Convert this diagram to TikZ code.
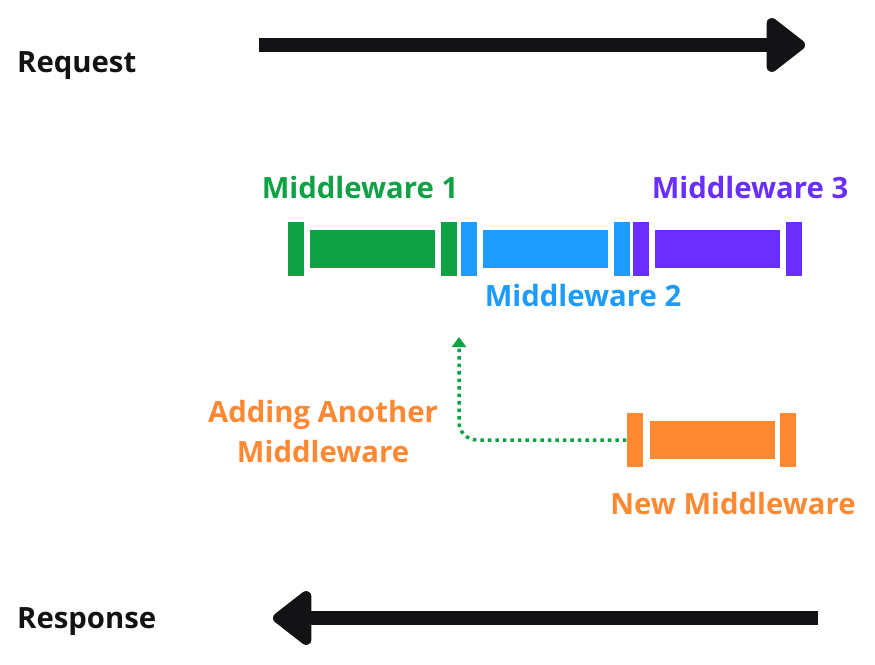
\documentclass[tikz,border=0pt]{standalone}
\usepackage{fontspec}
\setmainfont{Open Sans}[BoldFont={* Bold}]
\usetikzlibrary{arrows.meta,positioning}
\definecolor{mwgreen}{HTML}{0EA245}
\definecolor{mwblue}{HTML}{1E9BFF}
\definecolor{mwpurple}{HTML}{6A2FFF}
\definecolor{mworange}{HTML}{FF8833}
\definecolor{mwblack}{HTML}{131316}
\tikzset{
	mwcap/.style={fill=#1, minimum width=16pt, minimum height=54pt, inner sep=0pt},
	mwbody/.style={fill=#1, minimum width=125pt, minimum height=38pt, inner sep=0pt},
	mwlabel/.style={text=#1, font=\fontsize{29.3}{40}\selectfont\bfseries, inner sep=0pt, align=center},
	flow/.style={mwblack, line width=14pt, -{Triangle[length=42pt,width=62pt,round]}},
}

\begin{document}
\begin{tikzpicture}[x=1pt,y=-1pt]
	\useasboundingbox (0,0) rectangle (875,664);
	% request / response
	\node (req) at (17,66) [mwlabel=mwblack, anchor=west] {Request};
	\node (res) at (17,622) [mwlabel=mwblack, anchor=west] {Response};
	\coordinate (reqa) at (259,45);
	\coordinate (reqb) at (805,45);
	\coordinate (resa) at (818,618);
	\coordinate (resb) at (273,618);
	\draw[flow] (reqa)--(reqb);
	\draw[flow] (resa)--(resb);
	% middleware chain
	\node (g1) at (296,249) [mwcap=mwgreen] {};
	\node (gb) at (372.5,249) [mwbody=mwgreen] {};
	\node (g2) at (449,249) [mwcap=mwgreen] {};
	\node (b1) at (468.5,249) [mwcap=mwblue] {};
	\node (bb) at (545.5,249) [mwbody=mwblue] {};
	\node (b2) at (622,249) [mwcap=mwblue] {};
	\node (p1) at (641,249) [mwcap=mwpurple] {};
	\node (pb) at (717.5,249) [mwbody=mwpurple] {};
	\node (p2) at (794,249) [mwcap=mwpurple] {};
	\node (lg) at (360,188) [mwlabel=mwgreen] {Middleware 1};
	\node (lb) at (583,296) [mwlabel=mwblue] {Middleware 2};
	\node (lp) at (750,188) [mwlabel=mwpurple] {Middleware 3};
	% new middleware
	\node (o1) at (634.5,440) [mwcap=mworange] {};
	\node (ob) at (712,440) [mwbody=mworange] {};
	\node (o2) at (788,440) [mwcap=mworange] {};
	\node (lo) at (733,504) [mwlabel=mworange] {New Middleware};
	\node (add) at (323,432) [mwlabel=mworange] {Adding Another\\Middleware};
	\coordinate (ins) at (459,337);
	\draw[mwgreen, line width=3.5pt, dash pattern=on 3.5pt off 4pt, rounded corners=18pt,
		-{Triangle[length=10pt,width=14pt]}] (o1.west) -| (ins);
\end{tikzpicture}
\end{document}
